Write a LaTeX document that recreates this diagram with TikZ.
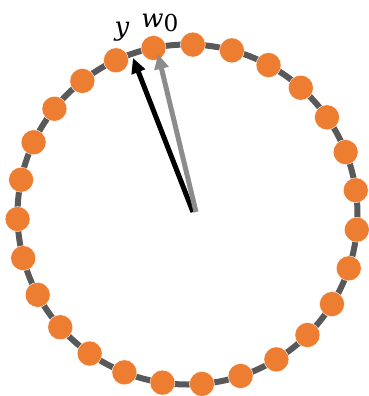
\documentclass[tikz,border=0pt]{standalone}
\usepackage{fontspec}
\newfontfamily\lblfont{DejaVu Serif}
\usetikzlibrary{arrows.meta,calc}
\definecolor{ringgray}{HTML}{595959}
\definecolor{dotorange}{HTML}{ED7D31}
\definecolor{arrgray}{HTML}{8C8C8C}
\tikzset{
  ring/.style={line width=6bp, draw=ringgray},
  dot/.style={circle, fill=dotorange, draw=white, line width=0.4bp, minimum size=25bp, inner sep=0pt},
  vec/.style={line width=5bp, -{Triangle[length=15bp,width=14bp]}},
  lbl/.style={inner sep=0pt, scale=2.6, transform shape, font=\lblfont}
}
\begin{document}
\begin{tikzpicture}[x=1bp, y=-1bp]
  \path[use as bounding box] (0,0) rectangle (369,396);
  \coordinate (c) at (187.5,214.5);
  \draw[ring] (c) circle[radius=170bp];
  \foreach \k in {0,...,26} {
    \pgfmathsetmacro{\th}{1.8+13.3333*\k}
    \node[dot] (d\k) at ($(c)+({170*sin(\th)},{-170*cos(\th)})$) {};
  }
  \coordinate (tb) at (193,212);
  \coordinate (hb) at (133,58);
  \coordinate (tg) at (196,212);
  \coordinate (hg) at (158,54);
  \draw[vec, black] (tb) -- (hb);
  \draw[vec, arrgray] (tg) -- (hg);
  \node[lbl] (ly) at (122,32) {\itshape y};
  \node[lbl] (lw) at (160,23) {\itshape w\raisebox{-0.3ex}{\upshape\small 0}};
\end{tikzpicture}
\end{document}
